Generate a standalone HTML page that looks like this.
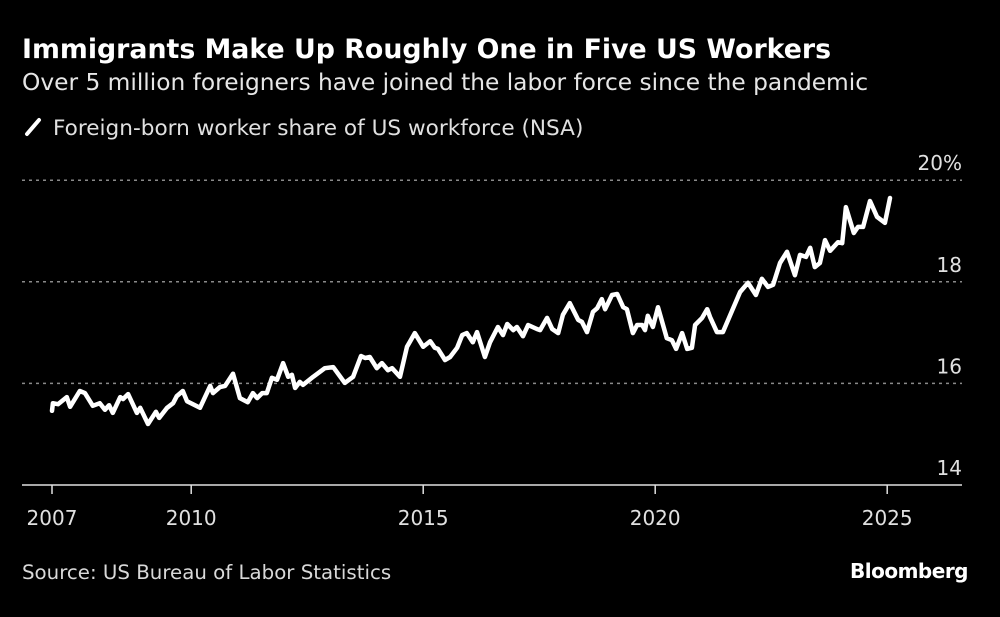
<!DOCTYPE html>
<html><head><meta charset="utf-8">
<style>
body{margin:0;background:#000;width:1000px;height:617px;overflow:hidden;font-family:"DejaVu Sans",sans-serif;color:#fff}
text{font-family:"DejaVu Sans","Liberation Sans",sans-serif}
</style></head><body>
<svg id="chart" width="1000" height="617" style="position:absolute;left:0;top:0">
<text x="22" y="58" font-size="26.8" font-weight="bold" fill="#fff">Immigrants Make Up Roughly One in Five US Workers</text>
<text x="22" y="90" font-size="23.3" fill="#e6e6e6">Over 5 million foreigners have joined the labor force since the pandemic</text>
<line x1="27" y1="134" x2="39" y2="120" stroke="#fff" stroke-width="4" stroke-linecap="round"/>
<text x="53" y="135" font-size="21.6" fill="#e0e0e0">Foreign-born worker share of US workforce (NSA)</text>
<text x="22" y="579" font-size="19.8" fill="#d9d9d9">Source: US Bureau of Labor Statistics</text>
<text x="968" y="578" font-size="20" font-weight="bold" text-anchor="end" fill="#fff" letter-spacing="-0.5">Bloomberg</text>
</svg>
<script>
const yearOffsets=[0,0.02,0.13,0.32,0.39,0.60,0.71,0.88,1.03,1.14,1.23,1.31,1.47,1.53,1.64,1.83,1.90,2.07,2.24,2.31,2.48,2.61,2.69,2.82,2.91,3.19,3.41,3.47,3.62,3.73,3.90,4.05,4.22,4.33,4.42,4.53,4.63,4.74,4.85,4.98,5.09,5.17,5.24,5.34,5.41,5.63,5.88,6.06,6.31,6.49,6.66,6.75,6.85,7.00,7.11,7.24,7.33,7.50,7.65,7.72,7.82,8.00,8.15,8.25,8.32,8.47,8.58,8.73,8.84,8.94,9.07,9.16,9.33,9.44,9.61,9.72,9.81,9.94,10.02,10.15,10.26,10.45,10.52,10.67,10.78,10.91,11.01,11.16,11.34,11.42,11.53,11.66,11.75,11.85,11.92,12.07,12.18,12.31,12.39,12.52,12.61,12.72,12.78,12.84,12.95,13.06,13.25,13.36,13.45,13.58,13.69,13.79,13.86,14.01,14.12,14.18,14.33,14.46,14.83,15.00,15.17,15.30,15.43,15.54,15.69,15.84,16.01,16.12,16.25,16.34,16.44,16.55,16.66,16.77,16.94,17.03,17.11,17.28,17.37,17.48,17.63,17.78,17.95,18.06];
const shareValues=[15.46,15.61,15.59,15.73,15.54,15.85,15.81,15.56,15.61,15.48,15.57,15.42,15.73,15.69,15.79,15.42,15.52,15.20,15.44,15.32,15.52,15.61,15.75,15.85,15.65,15.52,15.95,15.81,15.93,15.95,16.19,15.71,15.63,15.81,15.71,15.81,15.81,16.11,16.07,16.40,16.13,16.17,15.91,16.03,15.97,16.13,16.30,16.32,16.01,16.13,16.54,16.50,16.52,16.30,16.40,16.26,16.30,16.13,16.72,16.83,16.99,16.72,16.83,16.70,16.68,16.46,16.52,16.70,16.95,16.99,16.81,17.01,16.52,16.81,17.11,16.95,17.17,17.05,17.11,16.93,17.15,17.07,17.05,17.29,17.07,16.99,17.35,17.58,17.25,17.21,17.01,17.41,17.48,17.66,17.46,17.74,17.76,17.50,17.46,16.99,17.15,17.15,17.05,17.33,17.11,17.50,16.89,16.85,16.68,16.99,16.68,16.70,17.15,17.29,17.46,17.31,17.01,17.01,17.80,17.98,17.74,18.06,17.90,17.94,18.37,18.59,18.13,18.53,18.49,18.67,18.29,18.37,18.82,18.61,18.78,18.76,19.47,18.96,19.08,19.08,19.59,19.28,19.16,19.65];
const yTicks=[14,16,18,20];
const yTickLabels=["14","16","18","20%"];
const xTicks=[2007,2010,2015,2020,2025];
const NS="http://www.w3.org/2000/svg";
const svg=document.getElementById('chart');
const xScale=y=>52+(y-2007)*46.4;
const yScale=v=>485-(v-14)*50.8;
function mk(t,a){const e=document.createElementNS(NS,t);for(const k in a)e.setAttribute(k,a[k]);svg.appendChild(e);return e;}
yTicks.forEach((v,i)=>{
 if(v>14){const g=mk('line',{x1:22,x2:962,y1:yScale(v),y2:yScale(v),stroke:'#8a8a8a','stroke-width':1.5,'stroke-dasharray':'3 4'});
 
 }
 const t=mk('text',{x:962,y:yScale(v)-10,'text-anchor':'end',fill:'#e0e0e0','font-size':20});
 t.textContent=yTickLabels[i];
 
 
});
const ax=mk('line',{x1:22,x2:962,y1:485,y2:485,stroke:'#e0e0e0','stroke-width':1.5});


xTicks.forEach(y=>{
 const tk=mk('line',{x1:xScale(y),x2:xScale(y),y1:485,y2:494,stroke:'#e0e0e0','stroke-width':1.5});
 
 
 const t=mk('text',{x:xScale(y),y:525,'text-anchor':'middle',fill:'#e0e0e0','font-size':20});
 t.textContent=y;
 
 
});
const pts=yearOffsets.map((o,i)=>xScale(2007+o).toFixed(1)+','+yScale(shareValues[i]).toFixed(1)).join(' ');
const line=mk('polyline',{points:pts,fill:'none',stroke:'#fff','stroke-width':4.5,'stroke-linejoin':'round','stroke-linecap':'round'});


</script>
</body></html>
